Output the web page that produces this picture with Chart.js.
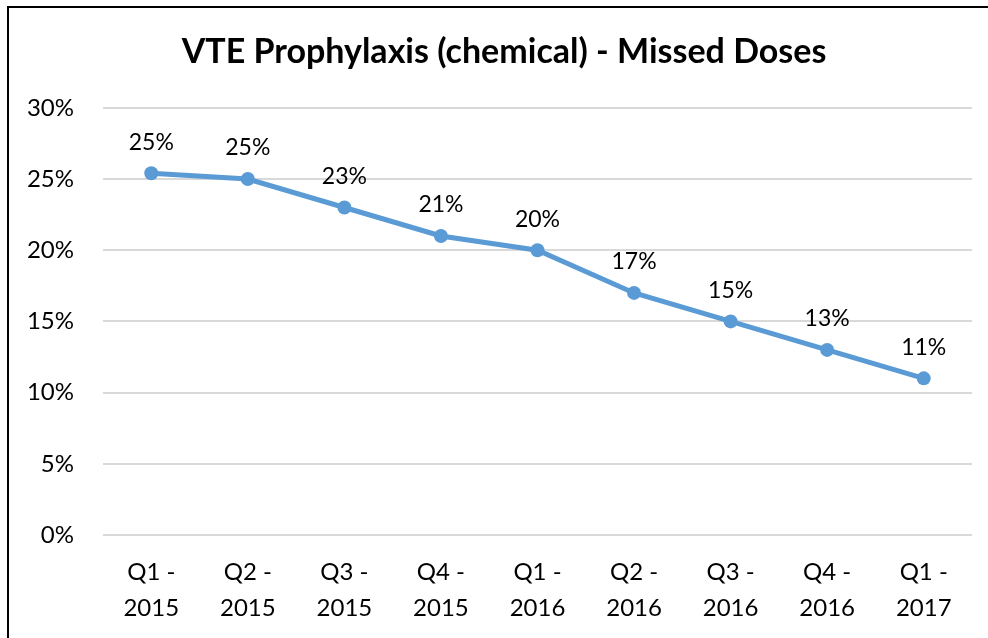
<!DOCTYPE html>
<html>
<head>
<meta charset="utf-8">
<script src="https://cdn.jsdelivr.net/npm/chart.js@4"></script>
<style>
    body { margin: 0; background: #fff; overflow: hidden; }
    #frame {
        position: absolute; left: 7px; top: 6px; width: 1000px; height: 700px;
        border-top: 2px solid #000; border-left: 2px solid #000;
    }
    canvas { position: absolute; left: 0; top: 0; }
</style>
</head>
<body>
<div id="frame"></div>
<canvas id="js--chart" width="988" height="638"></canvas>
<script>
const quarters = [
    ['Q1 -', '2015'], ['Q2 -', '2015'], ['Q3 -', '2015'], ['Q4 -', '2015'],
    ['Q1 -', '2016'], ['Q2 -', '2016'], ['Q3 -', '2016'], ['Q4 -', '2016'],
    ['Q1 -', '2017']
];
const missedDoses = [25.4, 25, 23, 21, 20, 17, 15, 13, 11];
const yTicks = [0, 5, 10, 15, 20, 25, 30];

const fontName = "Lato, 'DejaVu Sans', sans-serif";

// simple label plugin, puts the rounded value above each point
const pointLabels = {
    id: 'pointLabels',
    afterDatasetsDraw(chart) {
        const ctx = chart.ctx;
        const meta = chart.getDatasetMeta(0);
        ctx.save();
        ctx.font = "23px " + fontName;
        ctx.fillStyle = '#000';
        ctx.textAlign = 'center';
        ctx.textBaseline = 'middle';
        meta.data.forEach(function (pt, i) {
            ctx.fillText(Math.round(missedDoses[i]) + '%', pt.x, pt.y - 31);
        });
        ctx.restore();
    }
};

const data = {
    labels: quarters,
    datasets: [{
        label: 'Missed doses',
        data: missedDoses,
        borderColor: '#5B9BD5',
        backgroundColor: '#5B9BD5',
        borderWidth: 5,
        pointRadius: 7,
        pointBorderWidth: 0,
        tension: 0
    }]
};

const config = {
    type: 'line',
    data: data,
    plugins: [pointLabels],
    options: {
        responsive: false,
        animation: false,
        layout: { padding: { left: 20, right: 0, top: 0, bottom: 0 } },
        plugins: {
            legend: { display: false },
            tooltip: { enabled: false },
            title: {
                display: true,
                text: 'VTE Prophylaxis (chemical) - Missed Doses',
                color: '#000',
                font: { family: fontName, size: 34, weight: 'bold', lineHeight: 1.2 },
                padding: { top: 32, bottom: 35 }
            }
        },
        scales: {
            x: {
                offset: true,
                grid: { display: false },
                border: { display: false },
                ticks: {
                    color: '#000',
                    font: { family: fontName, size: 24, lineHeight: 1.5 },
                    padding: 11,
                    maxRotation: 0,
                    autoSkip: false
                },
                afterFit: function (scale) { scale.height = 103; }
            },
            y: {
                min: 0,
                max: 30,
                afterBuildTicks: function (scale) {
                    scale.ticks = yTicks.map(function (v) { return { value: v }; });
                },
                grid: { color: '#D9D9D9', lineWidth: 2, drawTicks: false },
                border: { display: false },
                ticks: {
                    color: '#000',
                    font: { family: fontName, size: 24 },
                    padding: 29,
                    callback: function (v) { return v + '%'; }
                },
                afterFit: function (scale) { scale.width = 83; }
            },
            // empty axis on the right, only keeps the gap after the plot
            yRight: {
                position: 'right',
                min: 0,
                max: 30,
                grid: { display: false },
                border: { display: false },
                ticks: { display: false },
                afterFit: function (scale) { scale.width = 16; }
            }
        }
    }
};

new Chart(document.getElementById("js--chart"), config);
</script>
</body>
</html>
